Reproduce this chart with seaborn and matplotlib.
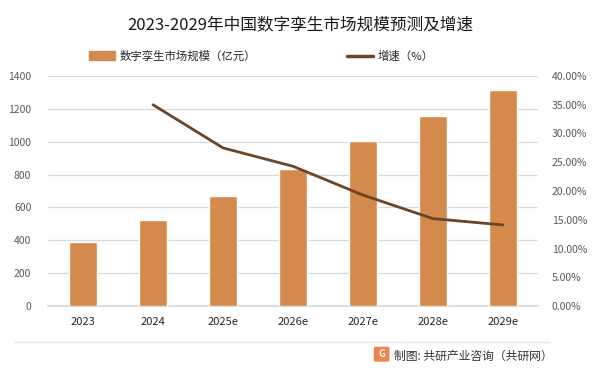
import matplotlib
matplotlib.use("Agg")
import matplotlib.pyplot as plt
import seaborn as sns
import pandas as pd
from matplotlib.patches import FancyBboxPatch
from matplotlib.lines import Line2D

years = ["2023", "2024", "2025e", "2026e", "2027e", "2028e", "2029e"]
market_size = [390, 524, 669, 832, 1002, 1154, 1317]
growth_years = ["2024", "2025e", "2026e", "2027e", "2028e", "2029e"]
growth_rate = [35.0, 27.5, 24.3, 19.3, 15.2, 14.1]

left_ticks = [0, 200, 400, 600, 800, 1000, 1200, 1400]
right_ticks = [0, 5, 10, 15, 20, 25, 30, 35, 40]

title = "2023-2029年中国数字孪生市场规模预测及增速"
bar_label = "数字孪生市场规模（亿元）"
line_label = "增速（%）"
source = "制图: 共研产业咨询（共研网）"

sns.set_theme(style="white")
plt.rcParams['font.family'] = ['Noto Sans CJK SC', 'DejaVu Sans']

bar_color = "#D48A4C"
line_color = "#6B4526"

df = pd.DataFrame({"year": years, "size": market_size})
gdf = pd.DataFrame({"year": growth_years, "rate": growth_rate})
gdf["pos"] = [years.index(y) for y in growth_years]

fig = plt.figure(figsize=(6.01, 3.74), dpi=100)
ax = fig.add_axes([0.0799, 0.1818, 0.815, 0.615])

sns.barplot(data=df, x="year", y="size", ax=ax, color=bar_color, width=0.4,
            saturation=1, zorder=3)
ax.set_ylim(0, 1400)
ax.set_xlim(-0.5, 6.5)
ax.set_yticks(left_ticks)
ax.set_yticklabels([str(t) for t in left_ticks])
ax.yaxis.grid(True, color="#d9d9d9", linewidth=0.9, zorder=0)
ax.set_axisbelow(True)
ax.set_xlabel("")
ax.set_ylabel("")
for s in ["top", "right", "left"]:
    ax.spines[s].set_visible(False)
ax.spines["bottom"].set_color("#d9d9d9")
ax.tick_params(axis="y", length=0, pad=12, labelsize=7.5, labelcolor="#595959")
ax.tick_params(axis="x", length=0, pad=8, labelsize=8, labelcolor="#262626")

ax2 = ax.twinx()
sns.lineplot(data=gdf, x="pos", y="rate", ax=ax2, color=line_color, linewidth=2.0,
             zorder=4)
ax2.set_ylim(0, 40)
ax2.set_xlim(-0.5, 6.5)
ax2.set_yticks(right_ticks)
ax2.set_yticklabels([f"{t:.2f}%" for t in right_ticks])
ax2.tick_params(axis="y", length=0, pad=10, labelsize=7.5, labelcolor="#595959")
ax2.set_xlabel("")
ax2.set_ylabel("")
for s in ["top", "right", "left", "bottom"]:
    ax2.spines[s].set_visible(False)
ax2.grid(False)

fig.text(0.5, 0.933, title, ha="center", va="center", fontsize=12, color="#1a1a1a")

handles = [plt.Rectangle((0, 0), 1, 1, color=bar_color),
           Line2D([0], [0], color=line_color, linewidth=2.5)]
fig.legend(handles, [bar_label, line_label], loc="center", bbox_to_anchor=(0.435, 0.85),
           ncol=2, frameon=False, fontsize=8.2, columnspacing=8, handlelength=2.3,
           handleheight=0.8, handletextpad=0.4, labelcolor="#262626")

# footer
fig.add_artist(Line2D([0.023, 0.915], [1 - 342 / 374, 1 - 342 / 374], color="#e6e6e6",
                      linewidth=1, transform=fig.transFigure))
logo = FancyBboxPatch((0.622, 0.033), 0.026, 0.04, boxstyle="round,pad=0,rounding_size=0.004",
                      transform=fig.transFigure, facecolor="#F0834A", edgecolor="none")
fig.add_artist(logo)
fig.text(0.635, 0.053, "G", fontsize=7, fontweight="bold", color="white", ha="center",
         va="center")
fig.text(0.655, 0.046, source, fontsize=8.5, color="#333333", ha="left", va="center")

fig.savefig("out.png", dpi=100)
